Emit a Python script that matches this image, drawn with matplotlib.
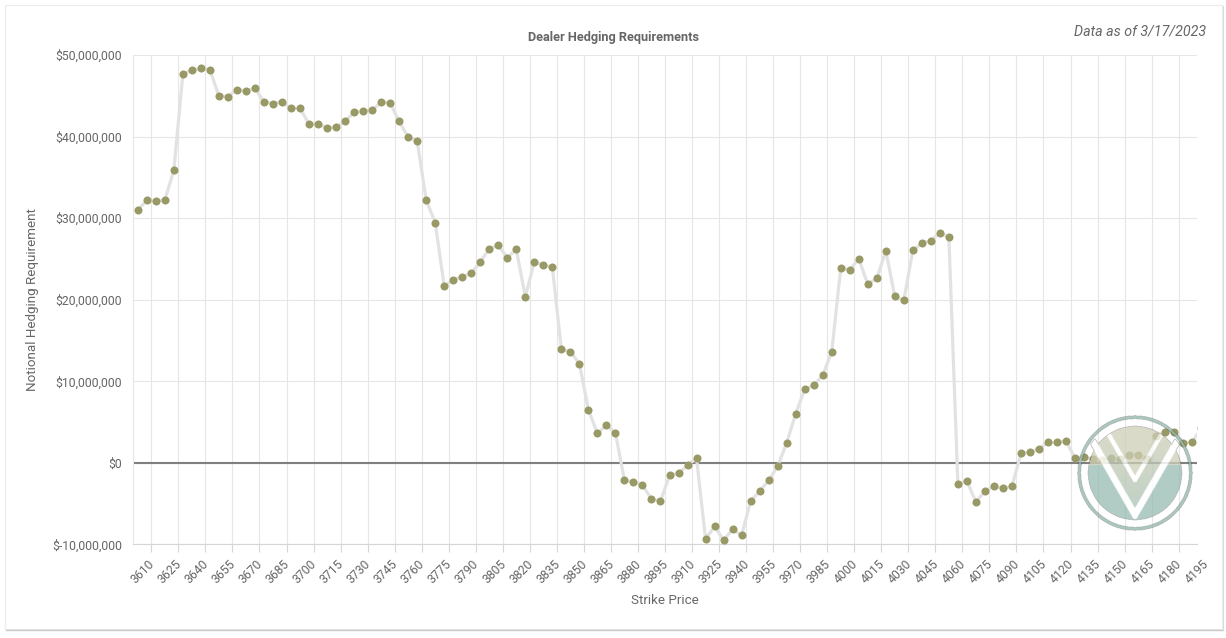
import matplotlib
matplotlib.use('Agg')
import matplotlib.pyplot as plt
import matplotlib.transforms as mtransforms
from matplotlib.patches import Rectangle
from matplotlib.lines import Line2D
from matplotlib.ticker import FuncFormatter, FixedLocator
import numpy as np

# strike price categories (every 5 points)
strikes = list(range(3605, 4200, 5))

# notional hedging requirement, in millions of dollars
hedging_mm = [
    31.0, 32.2, 32.05, 32.25, 35.85, 47.7, 48.15, 48.35, 48.2, 44.95,
    44.9, 45.75, 45.6, 45.9, 44.25, 44.05, 44.25, 43.45, 43.45, 41.55,
    41.55, 41.05, 41.15, 41.85, 43.0, 43.1, 43.25, 44.2, 44.15, 41.85,
    39.95, 39.45, 32.2, 29.45, 21.65, 22.45, 22.8, 23.25, 24.6, 26.25,
    26.65, 25.15, 26.15, 20.35, 24.65, 24.2, 24.0, 13.9, 13.6, 12.15,
    6.5, 3.6, 4.6, 3.65, -2.15, -2.35, -2.75, -4.45, -4.7, -1.55,
    -1.3, -0.3, 0.55, -9.35, -7.8, -9.5, -8.15, -8.9, -4.7, -3.5,
    -2.15, -0.45, 2.45, 6.0, 9.0, 9.5, 10.7, 13.6, 23.85, 23.65,
    25.0, 21.9, 22.6, 26.0, 20.4, 19.9, 26.05, 26.9, 27.25, 28.2,
    27.7, -2.6, -2.25, -4.8, -3.5, -2.85, -3.15, -2.9, 1.15, 1.3,
    1.7, 2.5, 2.5, 2.65, 0.55, 0.7, 0.45, 0.3, 0.55, 0.4,
    1.0, 1.0, 0.45, 3.3, 3.75, 3.8, 2.45, 2.55, 4.2,
]

label_strikes = list(range(3610, 4200, 15))
y_ticks = [-10e6, 0, 10e6, 20e6, 30e6, 40e6, 50e6]

TEXT = '#666666'
GRID = '#e6e6e6'
plt.rcParams['font.family'] = ['Roboto', 'DejaVu Sans']

W, H = 1226, 638
fig = plt.figure(figsize=(W / 100, H / 100), dpi=100)
fig.patch.set_facecolor('white')

# card frame with a faint shadow
fig.add_artist(Rectangle((5.5 / W, 1 - 629 / H), (1222 - 5.5) / W, (629 - 5) / H,
                         transform=fig.transFigure, fill=False, edgecolor='#ececec', lw=0.8))
fig.add_artist(Line2D([6 / W, 1222.5 / W], [1 - 629.8 / H, 1 - 629.8 / H],
                      transform=fig.transFigure, color='#c8c8c8', lw=1.0))
fig.add_artist(Line2D([1222.8 / W, 1222.8 / W], [1 - 629.8 / H, 1 - 6 / H],
                      transform=fig.transFigure, color='#dcdcdc', lw=0.8))

left, right, top, bottom = 133.3, 1196.7, 55.0, 544.3
ax = fig.add_axes([left / W, 1 - bottom / H, (right - left) / W, (bottom - top) / H])

values = np.array(hedging_mm) * 1e6
ax.plot(strikes, values, color='#e2e2e2', lw=2.3, zorder=3, solid_capstyle='round')
ax.plot(strikes, values, 'o', color='#999966', ms=5.8, mec='none', zorder=4)
ax.axhline(0, color='#808080', lw=1.5, zorder=2)

ax.set_xlim(strikes[0] - 2.5, strikes[-2] + 2.5)
ax.set_ylim(-10e6, 50e6)

ax.set_yticks(y_ticks)
ax.yaxis.set_major_formatter(FuncFormatter(lambda v, p: '$' + f'{v:,.0f}'))
ax.tick_params(axis='y', length=0, pad=8, labelsize=8.8, labelcolor=TEXT)
ax.grid(axis='y', color=GRID, lw=0.8, zorder=0)

# tick marks and vertical grid sit between categories, labels on categories
bounds = [s + 2.5 for s in label_strikes if s + 2.5 < strikes[-2] + 2.5]
ax.xaxis.set_minor_locator(FixedLocator(bounds))
ax.set_xticks([])
ax.tick_params(axis='x', which='minor', length=6, width=0.8, color='#d6d6d6')
ax.grid(axis='x', which='minor', color=GRID, lw=0.8, zorder=0)
ax.set_axisbelow(True)

for side in ['top', 'right']:
    ax.spines[side].set_visible(False)
ax.spines['left'].set_color(GRID)
ax.spines['left'].set_linewidth(0.8)
ax.spines['bottom'].set_color('#d6d6d6')
ax.spines['bottom'].set_linewidth(0.8)

lab_tr = mtransforms.offset_copy(
    mtransforms.blended_transform_factory(ax.transData, ax.transAxes),
    fig=fig, x=1, y=-13, units='dots')
for s in label_strikes:
    ax.text(s, 0, str(s), transform=lab_tr, rotation=45, ha='right', va='top',
            rotation_mode='anchor', fontsize=8.8, color=TEXT, clip_on=False)

fig.text(665 / W, 1 - 601 / H, 'Strike Price', ha='center', va='center',
         fontsize=9.6, color=TEXT)
fig.text(33 / W, 1 - 300 / H, 'Notional Hedging Requirement', ha='center', va='center',
         rotation=90, fontsize=9.6, color=TEXT)
fig.text(614 / W, 1 - 38 / H, 'Dealer Hedging Requirements', ha='center', va='center',
         fontsize=9.2, fontweight='bold', color=TEXT)
fig.text(1206 / W, 1 - 31 / H, 'Data as of 3/17/2023', ha='right', va='center',
         fontsize=10.3, style='italic', color=TEXT)

# watermark logo, built as an image so that it fades what lies under it
n = 240
g = np.linspace(-60, 60, n)
X, Y = np.meshgrid(g, g[::-1])
R = np.hypot(X, Y)
teal = np.array([150, 188, 177]) / 255
beige = np.array([206, 206, 182]) / 255
mid = np.array([185, 198, 182]) / 255
img = np.zeros((n, n, 4))
ring = (R >= 54.5) & (R <= 57.5)
img[ring, :3] = teal
img[ring, 3] = 0.8
disc = R <= 47
img[disc, :3] = teal
img[disc & (Y > 8), :3] = beige
in_v = disc & (np.abs(X) <= (Y + 42) * 46 / 80)
t = np.clip((Y + 42) / 80, 0, 1)[..., None]
grad = beige * t + teal * (1 - t) * 0.5 + mid * (1 - t) * 0.5
img[in_v, :3] = grad[in_v]
img[disc, 3] = 0.75
# white V band
dv = np.abs(np.abs(X) - (Y + 42) * 46 / 80) * 80 / np.hypot(80, 46)
band = (dv < 3.4) & (Y > -46) & (Y < 40) & (R < 53)
img[band, :3] = 1.0
img[band, 3] = 0.85
inner = disc & (np.abs(X) <= (Y + 7) * 26 / 45) & (Y < 40)
img[inner, :3] = beige
dvi = np.abs(np.abs(X) - (Y + 7) * 26 / 45) * 45 / np.hypot(45, 26)
band2 = disc & (dvi < 2.2) & (Y > -9)
img[band2, :3] = 1.0

cx, cy = 1135, 472.7
lax = fig.add_axes([(cx - 60) / W, 1 - (cy + 60) / H, 120 / W, 120 / H], zorder=5)
lax.imshow(img, extent=(-60, 60, -60, 60), interpolation='bilinear')
lax.set_axis_off()

fig.savefig('out.png', dpi=100, facecolor='white')
